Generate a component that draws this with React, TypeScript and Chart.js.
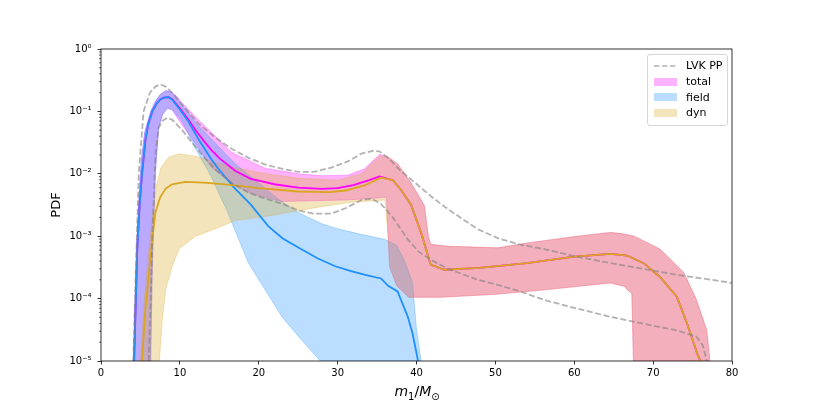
import { useEffect, useRef } from 'react';
import { Chart, registerables } from 'chart.js';
import type { Plugin } from 'chart.js';

Chart.register(...registerables);

// primary mass m1 [Msun] and PDF values

// LVK power-law + peak, 90% bounds
const lvkHiX = [4.1, 4.4, 4.8, 5.4, 6.2, 6.9, 7.5, 8.2, 9.0, 10.3, 12.4, 14.5, 16.6, 18.7, 20.8, 23, 25, 27, 29.2, 31.3, 33, 34.5, 35.3, 36.5, 38, 39.8, 42, 44, 47.8, 50.3, 53, 56.2, 60, 64.6, 69, 73, 77, 80];
const lvkHi = [1e-5, 2.5e-4, 1.07e-2, 0.1, 0.2, 0.25, 0.27, 0.25, 0.2, 0.126, 0.063, 0.038, 0.025, 0.018, 0.0141, 0.012, 0.0107, 0.0107, 0.0126, 0.0158, 0.021, 0.0234, 0.0229, 0.0174, 0.0112, 0.0072, 0.0042, 0.0027, 0.00129, 0.00093, 0.00074, 0.00062, 0.00048, 0.00037, 0.000295, 0.00024, 0.000204, 0.000178];
const lvkLoX = [6.05, 6.3, 6.5, 6.9, 7.3, 7.8, 8.4, 9.0, 10.3, 11.5, 13, 14.5, 16.6, 18.7, 20.8, 23, 25, 27, 29.2, 31, 33, 34.3, 35.5, 37, 38.9, 40.3, 41.8, 44, 47.8, 50.3, 53, 56.2, 60, 64.6, 69, 73, 75.5, 76.3, 76.8];
const lvkLo = [1e-5, 1e-4, 8.9e-4, 0.02, 0.054, 0.071, 0.079, 0.074, 0.05, 0.032, 0.019, 0.0117, 0.0071, 0.005, 0.004, 0.0033, 0.0026, 0.0023, 0.0023, 0.0028, 0.0038, 0.004, 0.0033, 0.002, 0.00089, 0.00056, 0.00042, 0.0003, 0.0002, 0.000166, 0.000132, 0.000095, 0.000071, 0.000051, 0.000039, 0.000031, 0.0000245, 0.0000178, 1e-5];

// medians
const totalMedX = [4.2, 4.4, 4.6, 4.9, 5.2, 5.65, 6.0, 6.5, 7.0, 7.5, 8.0, 8.5, 9.0, 10, 11, 12, 13, 14, 15, 17, 19, 22, 25, 28, 30, 32, 34, 35.3, 37, 38, 39.3, 40.6, 41.8, 43.5, 48, 54, 60, 64.6, 66.7, 68.8, 70.9, 73, 74.3, 75.6, 76];
const totalMed = [1e-5, 7.9e-5, 6.3e-4, 3.2e-3, 0.01, 0.036, 0.063, 0.1, 0.13, 0.155, 0.166, 0.17, 0.158, 0.112, 0.076, 0.05, 0.034, 0.024, 0.0178, 0.0112, 0.0083, 0.0068, 0.006, 0.00575, 0.0059, 0.0066, 0.0079, 0.0091, 0.0079, 0.0056, 0.0032, 0.00112, 0.00035, 0.00029, 0.00031, 0.00037, 0.00047, 0.00052, 0.00049, 0.00037, 0.00022, 0.000107, 0.00004, 0.000013, 1e-5];
const fieldMedX = [4.2, 4.4, 4.6, 4.9, 5.2, 5.65, 6.0, 6.5, 7.0, 7.5, 8.0, 8.5, 9.0, 10, 11.1, 12.4, 14, 15, 17, 19, 21.2, 23, 25.4, 27.5, 29.7, 31.7, 33.5, 35.5, 36.4, 37.6, 38.9, 39.5, 40.2];
const fieldMed = [1e-5, 7.9e-5, 6.3e-4, 3.2e-3, 0.01, 0.036, 0.063, 0.1, 0.13, 0.155, 0.166, 0.17, 0.155, 0.107, 0.068, 0.035, 0.017, 0.0115, 0.0058, 0.0032, 0.00145, 0.00093, 0.00062, 0.00044, 0.00033, 0.000275, 0.00024, 0.00021, 0.00016, 0.00013, 0.000051, 0.0000275, 1e-5];
const dynMedX = [5.2, 5.6, 6.06, 6.5, 6.9, 7.5, 8.2, 9.0, 10.7, 13, 15, 17, 20, 25, 29, 31, 33.4, 35.5, 37, 38, 39.3, 40.6, 41.8, 43.5, 48, 54, 60, 64.6, 66.7, 68.8, 70.9, 73, 74.3, 75.6, 76];
const dynMed = [1e-5, 6.3e-5, 2.5e-4, 8.9e-4, 2.4e-3, 4.2e-3, 5.8e-3, 6.8e-3, 7.4e-3, 7.2e-3, 6.9e-3, 6.5e-3, 5.9e-3, 5.2e-3, 5.1e-3, 5.4e-3, 6.5e-3, 8.7e-3, 7.9e-3, 5.6e-3, 3.2e-3, 1.12e-3, 3.5e-4, 2.9e-4, 3.1e-4, 3.7e-4, 4.7e-4, 5.2e-4, 4.9e-4, 3.7e-4, 2.2e-4, 1.07e-4, 4e-5, 1.3e-5, 1e-5];

// credible bands (upper / lower edges)
const totalHiX = [4.1, 4.3, 4.5, 4.75, 5.1, 5.55, 6.3, 6.9, 7.5, 8.2, 8.8, 9.5, 10.3, 12.4, 14.5, 16.6, 20.8, 25, 28, 31.3, 33.4, 35.3, 36.3, 37.6, 39.3, 41, 41.5, 41.8, 44, 50.3, 54.1, 60.4, 64.6, 66, 67.6, 70.9, 73.9, 75.5, 76.8, 77.2];
const totalHi = [1e-5, 7.9e-5, 6.3e-4, 3.2e-3, 0.016, 0.047, 0.1, 0.145, 0.186, 0.214, 0.209, 0.18, 0.136, 0.072, 0.04, 0.022, 0.0123, 0.01, 0.0093, 0.0095, 0.012, 0.0204, 0.019, 0.0145, 0.0072, 0.0031, 0.001, 0.00074, 0.00069, 0.00065, 0.00078, 0.001, 0.00115, 0.0011, 0.001, 0.00062, 0.00026, 0.000095, 0.000031, 1e-5];
const totalLoX = [6.3, 6.5, 6.9, 7.3, 7.8, 8.4, 9.0, 10, 12, 14, 16.5, 19.1, 22.9, 27, 31, 34, 36.2, 36.4, 36.6, 37.5, 39, 43, 50, 56.2, 64.6, 66.3, 67.3, 67.5];
const totalLo = [1e-5, 3.2e-4, 0.0107, 0.054, 0.089, 0.112, 0.107, 0.068, 0.03, 0.0126, 0.0071, 0.0048, 0.0036, 0.0037, 0.0038, 0.004, 0.0042, 0.001, 0.00032, 0.00016, 0.000105, 0.000105, 0.000117, 0.000138, 0.000178, 0.000158, 0.00012, 1e-5];

const fieldHiX = [4.1, 4.3, 4.5, 4.75, 5.1, 5.55, 6.3, 6.9, 7.5, 8.2, 8.8, 9.5, 10.3, 12, 14, 17, 20, 22.5, 25, 28, 30, 33, 36, 37.5, 38.5, 39.5, 40, 40.6];
const fieldHi = [1e-5, 7.9e-5, 6.3e-4, 3.2e-3, 0.016, 0.047, 0.1, 0.145, 0.186, 0.214, 0.209, 0.17, 0.126, 0.066, 0.036, 0.0145, 0.0071, 0.0039, 0.0024, 0.00158, 0.00132, 0.00107, 0.00089, 0.00071, 0.0004, 0.00018, 0.000032, 1e-5];
const fieldLoX = [6.3, 6.5, 6.9, 7.3, 7.8, 8.4, 9.0, 10.3, 12, 14, 16, 18.7, 21, 23, 25, 27.8];
const fieldLo = [1e-5, 3.2e-4, 0.0107, 0.054, 0.089, 0.112, 0.107, 0.068, 0.025, 0.0089, 0.0025, 0.00037, 0.000126, 0.00005, 0.000025, 1e-5];

const dynHiX = [5.0, 5.5, 6.0, 6.5, 7.0, 7.6, 8.6, 9.9, 12.4, 14, 17, 20, 25, 30, 33, 35.3, 36.3, 37.6, 39.3, 41, 41.5, 41.8, 44, 50.3, 54.1, 60.4, 64.6, 66, 67.6, 70.9, 73.9, 75.5, 76.8, 77.2];
const dynHi = [1e-5, 1e-4, 5e-4, 0.002, 0.0063, 0.0126, 0.0186, 0.021, 0.0186, 0.0158, 0.0126, 0.0105, 0.0085, 0.0079, 0.01, 0.019, 0.019, 0.0145, 0.0072, 0.0031, 0.001, 0.00074, 0.00069, 0.00065, 0.00078, 0.001, 0.00115, 0.0011, 0.001, 0.00062, 0.00026, 0.000095, 0.000031, 1e-5];
const dynLoX = [7.4, 7.8, 8.2, 9.0, 9.9, 12, 14.9, 17, 21.2, 27.5, 31.7, 36, 36.4, 36.6, 37.5, 39, 43, 50, 56.2, 64.6, 66.3, 67.3, 67.5];
const dynLo = [1e-5, 5e-5, 1.38e-4, 3.2e-4, 6.3e-4, 1e-3, 1.38e-3, 1.78e-3, 2.1e-3, 2.9e-3, 3.5e-3, 3.8e-3, 0.001, 0.00032, 0.00016, 0.000105, 0.000105, 0.000117, 0.000138, 0.000178, 0.000158, 0.00012, 1e-5];

// axes
const xTicks = [0, 10, 20, 30, 40, 50, 60, 70, 80];
const yDecades = [-5, -4, -3, -2, -1, 0];
const yMinor = [2, 3, 4, 5, 6, 7, 8, 9];

const FONT = "'DejaVu Sans', sans-serif";
const LVK_COLOR = 'rgba(128, 128, 128, 0.6)';
const TOTAL_FILL = 'rgba(255, 0, 255, 0.3)';
const FIELD_FILL = 'rgba(30, 144, 255, 0.3)';
const DYN_FILL = 'rgba(218, 165, 32, 0.3)';
const LW = 1.8;

const toPoints = (xs: number[], ys: number[]) => xs.map((x, i) => ({ x, y: ys[i] }));
// closed outline: along the upper edge, back along the lower edge
const band = (hiX: number[], hi: number[], loX: number[], lo: number[]) =>
  [...toPoints(hiX, hi), ...toPoints(loX, lo).reverse()];

const SUP: Record<string, string> = {
  '-': '⁻', '0': '⁰', '1': '¹', '2': '²', '3': '³', '4': '⁴', '5': '⁵' 
};
const sup = (n: number) => String(n).split('').map((c) => SUP[c] ?? c).join('');

const framePlugin: Plugin = {
  id: 'frame',
  afterDatasetsDraw(chart) {
    const { ctx, chartArea: a } = chart;
    const y = chart.scales.y;
    ctx.save();
    ctx.strokeStyle = '#000';
    ctx.lineWidth = 0.8;
    ctx.strokeRect(a.left, a.top, a.right - a.left, a.bottom - a.top);
    ctx.lineWidth = 0.6;
    ctx.beginPath();
    yDecades.slice(0, -1).forEach((e) => {
      yMinor.forEach((m) => {
        const py = y.getPixelForValue(m * Math.pow(10, e));
        ctx.moveTo(a.left, py);
        ctx.lineTo(a.left - 2, py);
      });
    });
    ctx.stroke();
    ctx.restore();
  },
};

const legendItems = [
  { label: 'LVK PP', color: '' },
  { label: 'total', color: TOTAL_FILL },
  { label: 'field', color: FIELD_FILL },
  { label: 'dyn', color: DYN_FILL },
];

export default function App() {
  const canvasRef = useRef<HTMLCanvasElement>(null);
  const chartRef = useRef<Chart | null>(null);

  useEffect(() => {
    if (!canvasRef.current) return;
    if (chartRef.current) chartRef.current.destroy();

    const line = { pointRadius: 0, pointHoverRadius: 0, tension: 0, fill: false };
    const shape = { pointRadius: 0, pointHoverRadius: 0, tension: 0, fill: 'shape' as const, borderWidth: 0.8 };

    chartRef.current = new Chart(canvasRef.current, {
      type: 'line',
      data: {
        datasets: [
          { ...line, label: 'LVK PP', data: toPoints(lvkHiX, lvkHi), borderColor: LVK_COLOR, borderWidth: LW, borderDash: [6, 2.6], order: 1 },
          { ...line, label: 'LVK PP low', data: toPoints(lvkLoX, lvkLo), borderColor: LVK_COLOR, borderWidth: LW, borderDash: [6, 2.6], order: 1 },
          { ...line, label: 'dyn median', data: toPoints(dynMedX, dynMed), borderColor: '#daa520', borderWidth: LW, order: 2 },
          { ...line, label: 'field median', data: toPoints(fieldMedX, fieldMed), borderColor: '#1e90ff', borderWidth: LW, order: 3 },
          { ...line, label: 'total median', data: toPoints(totalMedX, totalMed), borderColor: '#ff00ff', borderWidth: LW, order: 4 },
          { ...shape, label: 'dyn', data: band(dynHiX, dynHi, dynLoX, dynLo), backgroundColor: DYN_FILL, borderColor: 'rgba(218, 165, 32, 0.35)', order: 5 },
          { ...shape, label: 'field', data: band(fieldHiX, fieldHi, fieldLoX, fieldLo), backgroundColor: FIELD_FILL, borderColor: 'rgba(30, 144, 255, 0.35)', order: 6 },
          { ...shape, label: 'total', data: band(totalHiX, totalHi, totalLoX, totalLo), backgroundColor: TOTAL_FILL, borderColor: 'rgba(255, 0, 255, 0.35)', order: 7 },
        ],
      },
      options: {
        responsive: true,
        maintainAspectRatio: false,
        animation: false,
        events: [],
        layout: { padding: { top: 49, right: 82, left: 0, bottom: 0 } },
        plugins: {
          legend: { display: false },
          tooltip: { enabled: false },
        },
        scales: {
          x: {
            type: 'linear',
            min: 0,
            max: 80,
            afterBuildTicks: (scale) => {
              scale.ticks = xTicks.map((value) => ({ value }));
            },
            afterFit: (scale) => {
              scale.height = 46;
            },
            ticks: {
              font: { family: FONT, size: 10 },
              color: '#000',
              padding: 3,
              maxRotation: 0,
              autoSkip: false,
            },
            grid: {
              drawOnChartArea: false,
              drawTicks: true,
              tickLength: 3.5,
              tickColor: '#000',
              tickWidth: 0.8,
            },
            border: { display: false },
          },
          y: {
            type: 'logarithmic',
            min: 1e-5,
            max: 1,
            afterBuildTicks: (scale) => {
              scale.ticks = yDecades.map((e) => ({ value: Math.pow(10, e) }));
            },
            afterFit: (scale) => {
              scale.width = 101;
            },
            ticks: {
              font: { family: FONT, size: 10 },
              color: '#000',
              padding: 6,
              autoSkip: false,
              callback: (value) => '10' + sup(Math.round(Math.log10(Number(value)))),
            },
            grid: {
              drawOnChartArea: false,
              drawTicks: true,
              tickLength: 3.5,
              tickColor: '#000',
              tickWidth: 0.8,
            },
            border: { display: false },
            title: {
              display: true,
              text: 'PDF',
              color: '#000',
              font: { family: FONT, size: 13 },
              padding: { top: 49, bottom: 0 },
            },
          },
        },
      },
      plugins: [framePlugin],
    });

    return () => {
      if (chartRef.current) {
        chartRef.current.destroy();
        chartRef.current = null;
      }
    };
  }, []);

  return (
    <div style={{
      position: 'absolute',
      left: 0,
      top: 0,
      width: 814,
      height: 407,
      background: '#fff',
      fontFamily: FONT,
    }}>
      <canvas ref={canvasRef} />
      <div style={{
        position: 'absolute',
        left: 647,
        top: 54,
        width: 81,
        height: 72,
        boxSizing: 'border-box',
        border: '1px solid #d6d6d6',
        borderRadius: 3,
        background: 'rgba(255, 255, 255, 0.8)',
      }}>
        {legendItems.map((item, i) => (
          <div key={item.label} style={{
            position: 'absolute',
            left: 0,
            top: 3 + i * 15.7,
            height: 15.7,
            display: 'flex',
            alignItems: 'center',
            fontSize: 11,
            color: '#000',
            whiteSpace: 'nowrap',
          }}>
            {item.color ? (
              <span style={{
                display: 'inline-block',
                marginLeft: 6,
                width: 23,
                height: 8,
                background: item.color,
              }} />
            ) : (
              <svg width={23} height={8} style={{ marginLeft: 6 }}>
                <line x1={0} y1={4} x2={23} y2={4} stroke={LVK_COLOR} strokeWidth={1.5} strokeDasharray="5.5 2.4" />
              </svg>
            )}
            <span style={{ marginLeft: 9 }}>{item.label}</span>
          </div>
        ))}
      </div>
      <div style={{
        position: 'absolute',
        left: 317,
        width: 200,
        top: 382,
        textAlign: 'center',
        fontSize: 14,
        color: '#000',
        lineHeight: '18px',
      }}>
        <i>m</i><sub style={{ fontSize: 10 }}>1</sub>/<i>M</i><sub style={{ fontSize: 10 }}>⊙</sub>
      </div>
    </div>
  );
}
